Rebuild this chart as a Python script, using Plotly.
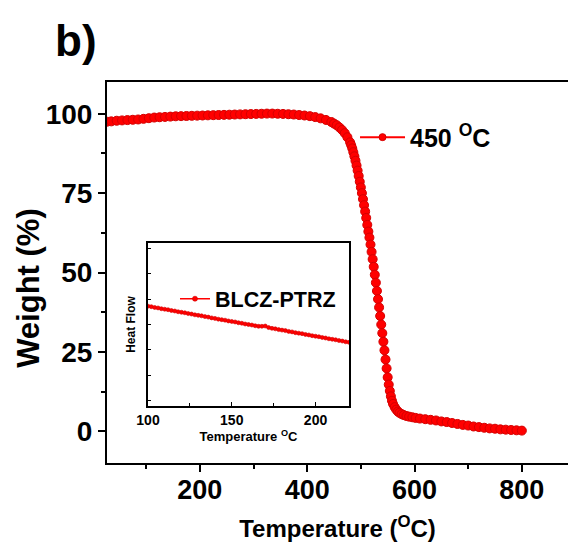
import plotly.graph_objects as go

# ---------------- data ----------------
temp_main = [27, 35, 45, 55, 65, 75, 85, 95, 105, 115, 125, 135, 145, 155, 165, 175,
             185, 195, 205, 215, 225, 235, 245, 255, 265, 275, 285, 295, 305, 315,
             325, 335, 345, 355, 365, 375, 385, 395, 405, 415, 425, 435, 445, 450,
             455, 460, 465, 470, 475, 480, 482, 484, 486, 488, 490, 492, 494, 496,
             498, 500, 502, 504, 506, 508, 510, 512, 514, 516, 518, 520, 522, 524,
             526, 528, 530, 532, 534, 536, 538, 540, 542, 544, 546, 548, 550, 552,
             554, 556, 558, 560, 563, 566, 569, 572, 576, 580, 585, 590, 596, 602,
             610, 620, 630, 640, 650, 660, 670, 680, 690, 700, 710, 720, 730, 740,
             750, 760, 770, 780, 790, 800]
weight_main = [97.5, 97.6, 97.8, 97.9, 98.0, 98.1, 98.2, 98.4, 98.6, 98.8, 98.9, 99.0,
               99.1, 99.2, 99.25, 99.3, 99.35, 99.4, 99.45, 99.5, 99.55, 99.6, 99.65,
               99.7, 99.75, 99.8, 99.85, 99.9, 99.95, 100.0, 100.05, 100.05, 100.0,
               99.95, 99.85, 99.75, 99.6, 99.45, 99.25, 98.95, 98.55, 98.05, 97.4,
               96.9, 96.4, 95.7, 94.9, 93.9, 92.6, 91.0, 90.1, 89.1, 87.9, 86.6, 85.2,
               83.7, 82.1, 80.4, 78.6, 76.8, 75.0, 73.1, 71.2, 69.2, 67.2, 65.0, 62.9,
               61.0, 58.8, 56.5, 54.2, 51.8, 49.3, 46.8, 44.2, 41.6, 39.0, 36.3, 33.6,
               30.9, 28.2, 25.5, 22.6, 19.8, 17.0, 14.7, 12.7, 11.0, 9.6, 8.6, 7.6,
               6.8, 6.2, 5.8, 5.4, 5.1, 4.8, 4.6, 4.4, 4.2, 4.0, 3.8, 3.6, 3.4, 3.1,
               2.9, 2.6, 2.3, 2.0, 1.8, 1.5, 1.3, 1.1, 0.9, 0.8, 0.6, 0.5, 0.4, 0.3,
               0.2]

temp_inset = [100, 102, 104, 106, 108, 110, 112, 114, 116, 118, 120, 122, 124, 126,
              128, 130, 132, 134, 136, 138, 140, 142, 144, 146, 148, 150, 152, 154,
              156, 158, 160, 162, 164, 166, 168, 170, 172, 174, 176, 178, 180, 182,
              184, 186, 188, 190, 192, 194, 196, 198, 200, 202, 204, 206, 208, 210,
              212, 214, 216, 218, 220]
heat_inset = [3.72, 3.70, 3.67, 3.65, 3.62, 3.60, 3.58, 3.55, 3.53, 3.50, 3.48, 3.46,
              3.43, 3.41, 3.38, 3.36, 3.34, 3.31, 3.29, 3.26, 3.24, 3.21, 3.19, 3.17,
              3.14, 3.12, 3.10, 3.07, 3.05, 3.02, 3.00, 2.98, 2.95, 2.93, 2.93, 2.94,
              2.88, 2.85, 2.83, 2.80, 2.78, 2.76, 2.73, 2.71, 2.68, 2.66, 2.64, 2.61,
              2.59, 2.56, 2.54, 2.52, 2.49, 2.47, 2.44, 2.42, 2.40, 2.37, 2.35, 2.32,
              2.30]

main_label = "450 <sup>O</sup>C"
inset_label = "BLCZ-PTRZ"
x_ticks_main = [200, 400, 600, 800]
y_ticks_main = [0, 25, 50, 75, 100]
x_ticks_inset = [100, 150, 200]

# ---------------- figure ----------------
FONT = "Arial, Liberation Sans, sans-serif"
RED = "#ff0000"

fig = go.Figure()

fig.add_trace(go.Scatter(
    x=temp_main, y=weight_main, mode="lines+markers",
    line=dict(color=RED, width=2),
    marker=dict(symbol="circle", size=9, color=RED, line=dict(color="#d40000", width=1)),
    showlegend=False, xaxis="x", yaxis="y"))
# legend entry (no data drawn)
fig.add_trace(go.Scatter(
    x=[None], y=[None], mode="lines+markers", name=main_label,
    line=dict(color=RED, width=2),
    marker=dict(symbol="circle", size=7, color=RED, line=dict(color="#d40000", width=1)),
    legend="legend", xaxis="x", yaxis="y"))

fig.add_trace(go.Scatter(
    x=temp_inset, y=heat_inset, mode="lines+markers",
    line=dict(color=RED, width=1.5),
    marker=dict(symbol="circle", size=4, color=RED, line=dict(color="#d40000", width=0.6)),
    showlegend=False, xaxis="x2", yaxis="y2"))
fig.add_trace(go.Scatter(
    x=[None], y=[None], mode="lines+markers", name=inset_label,
    line=dict(color=RED, width=1.5),
    marker=dict(symbol="circle", size=5, color=RED, line=dict(color="#d40000", width=0.6)),
    legend="legend2", xaxis="x2", yaxis="y2"))

axis_line = dict(showline=True, linecolor="black", linewidth=2, showgrid=False,
                 zeroline=False)

fig.update_layout(
    width=568, height=550,
    margin=dict(l=107, r=0, t=82, b=87),
    paper_bgcolor="white", plot_bgcolor="white",
    font=dict(family=FONT, color="black", weight="bold"),
    xaxis=dict(
        **axis_line, range=[27, 886], mirror=True,
        tickvals=x_ticks_main, ticks="outside", ticklen=7, tickwidth=2,
        tickcolor="black", ticklabelstandoff=-5,
        minor=dict(dtick=100, tick0=0, ticks="outside", ticklen=4, tickwidth=2,
                   tickcolor="black", showgrid=False),
        tickfont=dict(size=27, family=FONT, weight="bold"),
        title=dict(text="Temperature (<sup>O</sup>C)", standoff=16,
                   font=dict(size=24, family=FONT, weight="bold")),
    ),
    yaxis=dict(
        **axis_line, range=[-10, 110],
        tickvals=y_ticks_main, ticks="outside", ticklen=7, tickwidth=2,
        tickcolor="black",
        minor=dict(dtick=12.5, tick0=0, ticks="outside", ticklen=4, tickwidth=2,
                   tickcolor="black", showgrid=False),
        tickfont=dict(size=28, family=FONT, weight="bold"),
    ),
    xaxis2=dict(
        showline=True, linecolor="black", linewidth=1.5, mirror=True,
        showgrid=False, zeroline=False,
        domain=[0.0889, 0.525], anchor="y2", range=[100, 220],
        tickvals=x_ticks_inset, ticks="inside", ticklen=4, tickwidth=1,
        tickcolor="black",
        minor=dict(dtick=25, tick0=0, ticks="inside", ticklen=3, tickwidth=1,
                   tickcolor="black", showgrid=False),
        tickfont=dict(size=14, family=FONT, weight="bold"),
        title=dict(text="Temperature <sup>O</sup>C", standoff=4,
                   font=dict(size=13, family=FONT, weight="bold")),
    ),
    yaxis2=dict(
        showline=True, linecolor="black", linewidth=1.5, mirror=True,
        showgrid=False, zeroline=False,
        domain=[0.1496, 0.5774], anchor="x2", range=[-0.2, 6.2],
        dtick=1, tick0=0, ticks="inside", ticklen=3, tickwidth=1,
        tickcolor="black", showticklabels=False,
        title=dict(text="Heat Flow", standoff=8,
                   font=dict(size=12, family=FONT, weight="bold")),
    ),
    legend=dict(x=0.538, y=0.915, xanchor="left", yanchor="top",
                bgcolor="rgba(0,0,0,0)", borderwidth=0,
                font=dict(size=25, family=FONT, weight="bold"), itemwidth=45),
    legend2=dict(x=0.1475, y=0.485, xanchor="left", yanchor="top",
                 bgcolor="rgba(0,0,0,0)", borderwidth=0,
                 font=dict(size=21.5, family=FONT, weight="bold"), itemwidth=30),
    annotations=[
        dict(text="b)", xref="paper", yref="paper", x=-0.117, y=1.11,
             xanchor="left", yanchor="middle", showarrow=False,
             font=dict(size=44, family=FONT, weight="bold", color="black")),
        dict(text="Weight (%)", xref="paper", yref="paper",
             x=-0.169, y=0.46, xanchor="center", yanchor="middle",
             textangle=-90, showarrow=False,
             font=dict(size=31, family=FONT, weight="bold", color="black")),
    ],
)

fig.write_html("out.html", config={"displayModeBar": False},
               post_script="document.body.style.margin='0';")
